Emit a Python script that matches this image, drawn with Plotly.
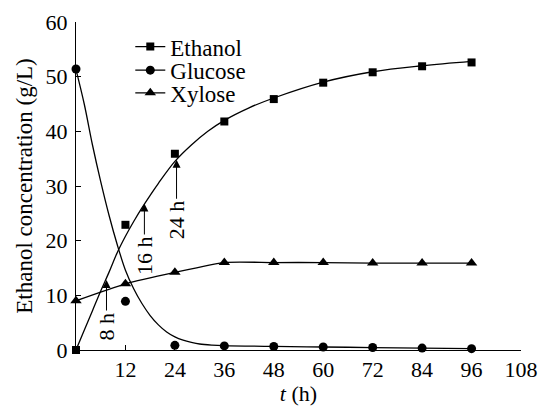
import plotly.graph_objects as go

# measured data points
time_h = [0, 12, 24, 36, 48, 60, 72, 84, 96]
ethanol = [0, 22.9, 35.9, 41.8, 45.9, 48.9, 50.8, 51.9, 52.6]
glucose = [51.4, 8.9, 0.85, 0.75, 0.65, 0.55, 0.45, 0.35, 0.25]
xylose = [9.0, 12.1, 14.2, 16.0, 16.0, 16.0, 15.9, 15.9, 15.9]

# fitted curves
eth_curve_t = [0, 2, 4, 6, 8, 10, 12, 14, 16, 18, 20, 24, 28, 32, 36, 42, 48, 60, 72, 84, 96]
eth_curve_v = [0, 3.6, 7.2, 10.8, 14.2, 17.8, 20.8, 23.5, 26.0, 28.3, 30.5, 34.5, 37.5, 40.0, 42.0, 44.3, 46.1, 49.0, 50.9, 52.0, 52.8]
glu_curve_t = [0, 2, 4, 6, 8, 10, 12, 14, 16, 18, 20, 22, 24, 26, 28, 30, 33, 36, 48, 60, 72, 84, 96]
glu_curve_v = [51.3, 45.0, 37.5, 30.8, 24.7, 19.3, 14.6, 11.2, 8.5, 6.3, 4.6, 3.3, 2.4, 1.8, 1.4, 1.1, 0.9, 0.8, 0.65, 0.55, 0.45, 0.35, 0.25]

# arrow annotations: label, time, concentration
arrow_labels = ["8 h", "16 h", "24 h"]
arrow_t = [7.4, 16.6, 24.4]
arrow_y = [12.8, 26.8, 34.8]

series_names = ["Ethanol", "Glucose", "Xylose"]
x_ticks = [12, 24, 36, 48, 60, 72, 84, 96, 108]
y_ticks = [0, 10, 20, 30, 40, 50, 60]

FONT = "Liberation Serif"
BLACK = "#000000"

fig = go.Figure()

# curves
fig.add_trace(go.Scatter(x=eth_curve_t, y=eth_curve_v, mode="lines", line=dict(color=BLACK, width=1.3, shape="spline"),
                         showlegend=False, cliponaxis=False, hoverinfo="skip"))
fig.add_trace(go.Scatter(x=glu_curve_t, y=glu_curve_v, mode="lines", line=dict(color=BLACK, width=1.3, shape="spline"),
                         showlegend=False, cliponaxis=False, hoverinfo="skip"))
fig.add_trace(go.Scatter(x=time_h, y=xylose, mode="lines", line=dict(color=BLACK, width=1.3, shape="spline", smoothing=0.6),
                         showlegend=False, cliponaxis=False, hoverinfo="skip"))

# markers
symbols = ["square", "circle", "triangle-up"]
sizes = [8, 9, 10]
for vals, sym, sz in zip([ethanol, glucose, xylose], symbols, sizes):
    fig.add_trace(go.Scatter(x=time_h, y=vals, mode="markers", marker=dict(symbol=sym, size=sz, color=BLACK),
                             showlegend=False, cliponaxis=False))

# legend entries, each in its own legend box for precise spacing
legend_keys = ["legend", "legend2", "legend3"]
legend_y = [0.925, 0.853, 0.784]
for name, sym, sz, key in zip(series_names, symbols, sizes, legend_keys):
    fig.add_trace(go.Scatter(x=[None], y=[None], mode="lines+markers", name=name, legend=key,
                             line=dict(color=BLACK, width=1.3), marker=dict(symbol=sym, size=sz, color=BLACK)))

annotations = []
for lab, t, v, off in zip(arrow_labels, arrow_t, arrow_y, [46, 52, 60]):
    annotations.append(dict(x=t, y=v, xref="x", yref="y", text=lab, textangle=-90, showarrow=True,
                            ax=0, ay=off, arrowhead=2, arrowsize=1.6, arrowwidth=1, arrowcolor=BLACK,
                            font=dict(family=FONT, size=22, color=BLACK)))

leg_common = dict(x=0.122, xanchor="left", yanchor="middle", bgcolor="rgba(0,0,0,0)",
                  font=dict(family=FONT, size=23, color=BLACK), itemwidth=30)
fig.update_layout(
    width=542, height=406,
    margin=dict(l=76, r=21, t=22, b=56),
    paper_bgcolor="white", plot_bgcolor="white",
    font=dict(family=FONT, size=21, color=BLACK),
    showlegend=True,
    legend=dict(y=legend_y[0], **leg_common),
    legend2=dict(y=legend_y[1], **leg_common),
    legend3=dict(y=legend_y[2], **leg_common),
    annotations=annotations,
)
fig.update_xaxes(range=[0, 108], tickvals=x_ticks, ticktext=[str(v) for v in x_ticks], automargin=False,
                 showline=True, linecolor=BLACK, linewidth=1, ticks="inside", ticklen=5, tickcolor=BLACK,
                 showgrid=False, zeroline=False, tickfont=dict(family=FONT, size=22, color=BLACK),
                 title=dict(text="<i>t</i> (h)", font=dict(family=FONT, size=22, color=BLACK), standoff=4))
fig.update_yaxes(range=[0, 60], tickvals=y_ticks, ticktext=[str(v) for v in y_ticks], automargin=False,
                 showline=True, linecolor=BLACK, linewidth=1, ticks="inside", ticklen=5, tickcolor=BLACK,
                 ticklabelstandoff=3,
                 showgrid=False, zeroline=False, tickfont=dict(family=FONT, size=22, color=BLACK),
                 title=dict(text="Ethanol concentration (g/L)", font=dict(family=FONT, size=23, color=BLACK), standoff=6))

fig.write_html("out.html", config={"displayModeBar": False},
               post_script="document.body.style.margin='0';document.body.style.overflow='hidden';")
